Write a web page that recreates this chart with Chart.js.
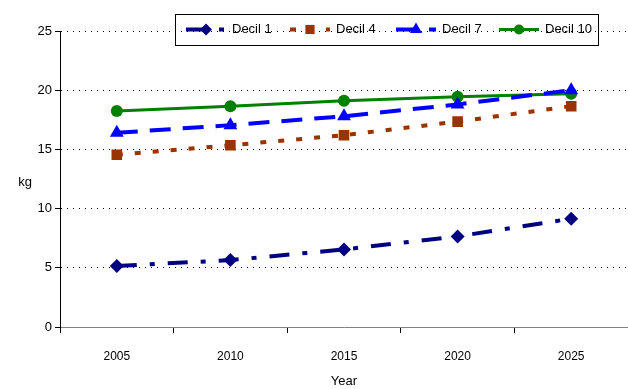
<!DOCTYPE html>
<html>
<head>
<meta charset="utf-8">
<script src="https://cdn.jsdelivr.net/npm/chart.js@4"></script>
<style>
  html, body { margin: 0; padding: 0; background: #fff; overflow: hidden; }
  #wrap { width: 628px; height: 389px; position: relative; }
  canvas { display: block; }
</style>
</head>
<body>
<div id="wrap"><canvas id="chart"></canvas></div>
<script>
const years = ['2005', '2010', '2015', '2020', '2025'];
const decil1 = [5.15, 5.65, 6.55, 7.65, 9.15];
const decil4 = [14.55, 15.35, 16.2, 17.35, 18.65];
const decil7 = [16.4, 17.05, 17.8, 18.8, 20.0];
const decil10 = [18.25, 18.65, 19.1, 19.45, 19.7];
const yTicks = [0, 5, 10, 15, 20, 25];

const FONT = 'Liberation Sans, Arial, sans-serif';

// legend box drawn by hand, Excel style (line sample + marker + text)
const boxLegend = {
    id: 'boxLegend',
    afterDraw(chart) {
        const ctx = chart.ctx;
        const starts = [186, 290, 396, 499];
        const cy = 29.5;
        ctx.save();
        ctx.strokeStyle = '#000';
        ctx.lineWidth = 1;
        ctx.strokeRect(175.5, 14.5, 423, 31);
        chart.data.datasets.forEach((ds, i) => {
            const x0 = starts[i];
            ctx.save();
            ctx.strokeStyle = ds.borderColor;
            ctx.lineWidth = ds.borderWidth;
            ctx.setLineDash(ds.borderDash || []);
            ctx.beginPath();
            ctx.moveTo(x0, cy);
            ctx.lineTo(x0 + 40, cy);
            ctx.stroke();
            ctx.restore();
            ctx.save();
            ctx.fillStyle = ds.pointBackgroundColor;
            ctx.strokeStyle = ds.pointBorderColor;
            Chart.helpers.drawPoint(ctx, {
                pointStyle: ds.pointStyle,
                radius: ds.pointRadius - 1,
                borderWidth: 0,
                rotation: 0
            }, x0 + 20, cy);
            ctx.restore();
            ctx.fillStyle = '#000';
            ctx.font = '13px ' + FONT;
            ctx.textBaseline = 'middle';
            ctx.fillText(ds.label, x0 + 46, cy);
        });
        // horizontal y-axis title
        ctx.fillStyle = '#000';
        ctx.font = '13px ' + FONT;
        ctx.textAlign = 'center';
        ctx.textBaseline = 'middle';
        ctx.fillText('kg', 25, 182);
        ctx.restore();
    }
};

new Chart(document.getElementById('chart'), {
    type: 'line',
    data: {
        labels: years,
        datasets: [
            {
                label: 'Decil 1', data: decil1,
                borderColor: '#000080', borderWidth: 4, borderDash: [20, 13, 5, 13],
                pointStyle: 'rectRot', pointRadius: 7,
                pointBackgroundColor: '#000080', pointBorderColor: '#000080', pointBorderWidth: 0
            },
            {
                label: 'Decil 4', data: decil4,
                borderColor: '#993300', borderWidth: 4, borderDash: [6, 12],
                pointStyle: 'rect', pointRadius: 7.5,
                pointBackgroundColor: '#993300', pointBorderColor: '#993300', pointBorderWidth: 0
            },
            {
                label: 'Decil 7', data: decil7,
                borderColor: '#0000FF', borderWidth: 4, borderDash: [21, 12],
                pointStyle: 'triangle', pointRadius: 8,
                pointBackgroundColor: '#0000FF', pointBorderColor: '#0000FF', pointBorderWidth: 0
            },
            {
                label: 'Decil 10', data: decil10,
                borderColor: '#008000', borderWidth: 3,
                pointStyle: 'circle', pointRadius: 6,
                pointBackgroundColor: '#008000', pointBorderColor: '#008000', pointBorderWidth: 0
            }
        ]
    },
    options: {
        responsive: true,
        maintainAspectRatio: false,
        animation: false,
        layout: { autoPadding: false, padding: { top: 31, right: 0, left: 0, bottom: 0 } },
        plugins: {
            legend: { display: false },
            tooltip: { enabled: false }
        },
        scales: {
            x: {
                offset: true,
                grid: { offset: true, drawOnChartArea: false, drawTicks: true, tickLength: 6, color: '#000' },
                border: { color: '#808080', width: 1 },
                ticks: { color: '#000', font: { family: FONT, size: 12 }, padding: 16, maxRotation: 0 },
                title: { display: true, text: 'Year', color: '#000', font: { family: FONT, size: 13 }, padding: { top: 2, bottom: 0 } },
                afterFit: (scale) => { scale.height = 62; }
            },
            y: {
                min: 0, max: 25,
                afterBuildTicks: (scale) => { scale.ticks = yTicks.map(v => ({ value: v })); },
                grid: { color: '#000', tickLength: 5, tickBorderDash: [] },
                border: { color: '#000', width: 1, dash: [1, 5] },
                ticks: { color: '#000', font: { family: FONT, size: 13 }, padding: 3 },
                afterFit: (scale) => { scale.width = 60; }
            }
        }
    },
    plugins: [boxLegend]
});
</script>
</body>
</html>
